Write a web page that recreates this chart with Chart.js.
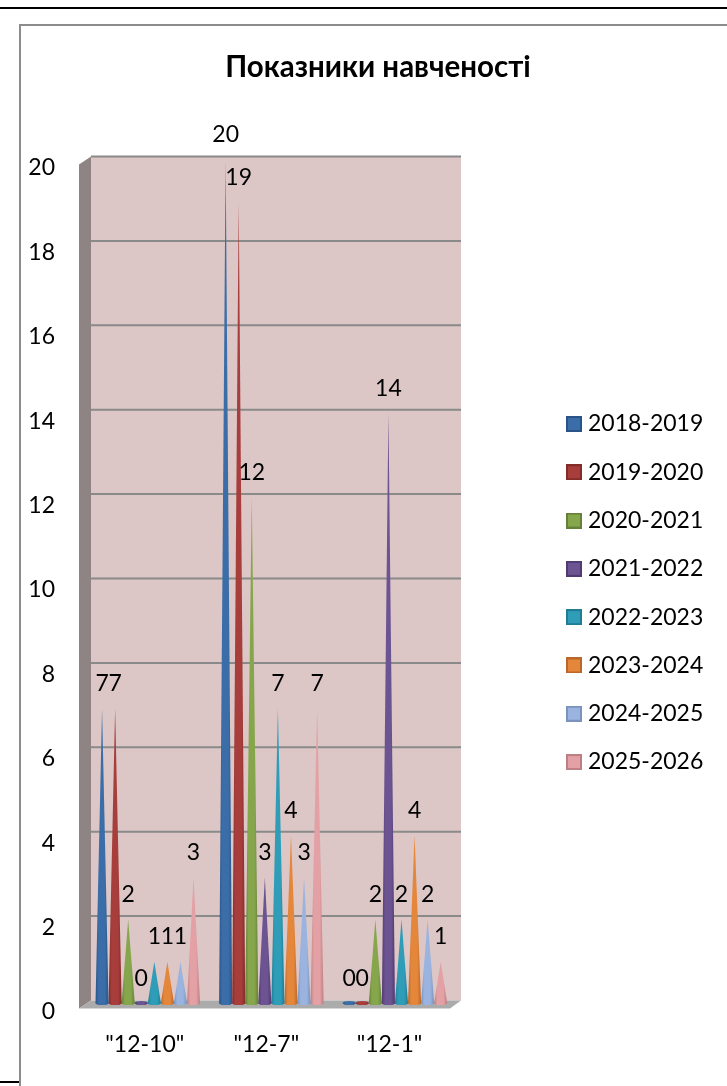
<!DOCTYPE html>
<html><head><meta charset="utf-8">
<style>html,body{margin:0;padding:0;background:#fff}#w{position:relative;width:727px;height:1086px;overflow:hidden}
.tl{position:absolute;left:0;top:7px;width:727px;height:2px;background:#000}
.f{position:absolute;left:19px;top:24px;width:800px;height:1100px;border:2px solid #8c8c8c;box-sizing:border-box}
.bl{position:absolute;left:0;top:1081px;width:19px;height:2px;background:#000}
canvas{position:absolute;left:0;top:0}</style>
<script src="https://cdn.jsdelivr.net/npm/chart.js@4"></script></head>
<body><div id="w"><div class="tl"></div><div class="f"></div><div class="bl"></div><canvas id="c" width="727" height="1086"></canvas></div>
<script>
const titleText = "Показники навченості";
const categories = ['"12-10"', '"12-7"', '"12-1"'];
const seriesNames = ["2018-2019","2019-2020","2020-2021","2021-2022","2022-2023","2023-2024","2024-2025","2025-2026"];
const s2018 = [7,20,0];
const s2019 = [7,19,0];
const s2020 = [2,12,2];
const s2021 = [0,3,14];
const s2022 = [1,7,2];
const s2023 = [1,4,4];
const s2024 = [1,3,2];
const s2025 = [3,7,1];
const seriesValues = [s2018,s2019,s2020,s2021,s2022,s2023,s2024,s2025];
const colors = ["#3B6EA8","#A83E3C","#86A64C","#6C5391","#2F9DB8","#E5873A","#9AB3DF","#E3A1A5"];
const darks  = ["#2A5488","#832C2A","#66803A","#503A70","#1F7C93","#B9672A","#7A93BD","#BC7F83"];
const FONT = 'Lato';

function shade(ctx,x0,x1,c,d){const g=ctx.createLinearGradient(x0,0,x1,0);
  g.addColorStop(0,d);g.addColorStop(.25,c);g.addColorStop(.7,c);g.addColorStop(1,d);return g;}

const icons = colors.map((c,i)=>{const k=document.createElement('canvas');k.width=16;k.height=16;
  const x=k.getContext('2d');x.fillStyle=c;x.fillRect(0,0,16,16);x.strokeStyle=darks[i];x.lineWidth=2;x.strokeRect(1,1,14,14);return k;});

const xLabelNudge=[-3,-5,-5.5];
const scene={id:'scene',
 afterLayout(ch){
  const lg=ch.legend;lg.left=546.2;lg.right=727;lg.top+=50;lg.bottom+=50;
  ch.titleBlock.left+=73.5;ch.titleBlock.right+=73.5;
 },
 beforeDraw(ch){
  const it=ch.scales.y.getLabelItems();
  if(!it._moved){it.forEach(l=>l.options.translation[1]+=8);it._moved=true;}
  const ix=ch.scales.x.getLabelItems();
  if(!ix._moved){ix.forEach((l,i)=>l.options.translation[0]+=xLabelNudge[i]);ix._moved=true;}
 },
 beforeDatasetsDraw(ch){
  const {ctx,scales:{y}}=ch;const L=91,R=461,FL=79,FR=450,dy=-3.5;
  const Y=v=>y.getPixelForValue(v)+dy;
  const bot=Y(0),top=Y(20);
  ctx.save();
  ctx.fillStyle='#DCC6C6';ctx.fillRect(L,top,R-L,bot-top);
  ctx.fillStyle='#8E8484';ctx.beginPath();ctx.moveTo(L,top);ctx.lineTo(FL,top+8);ctx.lineTo(FL,bot+8);ctx.lineTo(L,bot);ctx.closePath();ctx.fill();
  ctx.fillStyle='#ABABAB';ctx.beginPath();ctx.moveTo(L,bot);ctx.lineTo(R,bot);ctx.lineTo(FR,bot+8);ctx.lineTo(FL,bot+8);ctx.closePath();ctx.fill();
  ctx.strokeStyle='#8A8A8A';ctx.lineWidth=2;
  for(const t of y.ticks){const p=Y(t.value);
    if(t.value>0){ctx.beginPath();ctx.moveTo(L,p);ctx.lineTo(R,p);ctx.stroke();}}
  ctx.restore();
 },
 beforeDatasetDraw(ch,args){
  const {ctx}=ch,i=args.index;ctx.save();
  ch.getDatasetMeta(i).data.forEach(b=>{
    const hw=b.width/2,x=b.x,base=b.base-1,top=b.y;
    ctx.fillStyle=shade(ctx,x-hw,x+hw,colors[i],darks[i]);
    ctx.beginPath();ctx.moveTo(x,top);ctx.lineTo(x+hw,base);
    ctx.ellipse(x,base,hw,2,0,0,Math.PI);ctx.lineTo(x,top);ctx.closePath();ctx.fill();
    ctx.beginPath();ctx.ellipse(x,base,hw,2,0,0,Math.PI*2);ctx.fill();
  });
  ctx.restore();
  return false;
 },
 afterDraw(ch){
  const {ctx}=ch;ctx.save();ctx.font='23px '+FONT;
  ctx.fillStyle='#000';ctx.textAlign='center';ctx.textBaseline='middle';
  ch.data.datasets.forEach((ds,i)=>{ch.getDatasetMeta(i).data.forEach((b,j)=>{
    ctx.fillText(String(ds.data[j]),b.x,b.y-25);
  });});
  ctx.restore();
 }
};

new Chart(document.getElementById('c'),{
  type:'bar',
  data:{labels:categories,datasets:seriesNames.map((n,i)=>({label:n,data:seriesValues[i],backgroundColor:colors[i],borderColor:darks[i],borderWidth:1.5,categoryPercentage:.846,barPercentage:1}))},
  plugins:[scene],
  options:{responsive:false,animation:false,
    layout:{padding:{left:0,right:118,top:0,bottom:0}},
    plugins:{
      title:{display:true,text:titleText,color:'#000',font:{family:FONT,size:29.5,weight:'bold'},padding:{top:50,bottom:74.6}},
      legend:{position:'right',labels:{usePointStyle:true,pointStyleWidth:5,boxHeight:16,padding:25.3,color:'#000',font:{family:FONT,size:23},
        generateLabels(ch){return Chart.defaults.plugins.legend.labels.generateLabels(ch).map((l,i)=>({...l,pointStyle:icons[i]}));}}},
      tooltip:{enabled:false}},
    scales:{
      x:{afterFit(s){s.height=82;},grid:{display:false},border:{display:false},ticks:{color:'#000',font:{family:FONT,size:23},padding:19}},
      y:{afterFit(s){s.width=86;},min:0,max:20,grid:{display:false},border:{display:false},ticks:{stepSize:2,color:'#000',font:{family:FONT,size:23},padding:23}}
    }
  }
});
</script></body></html>
